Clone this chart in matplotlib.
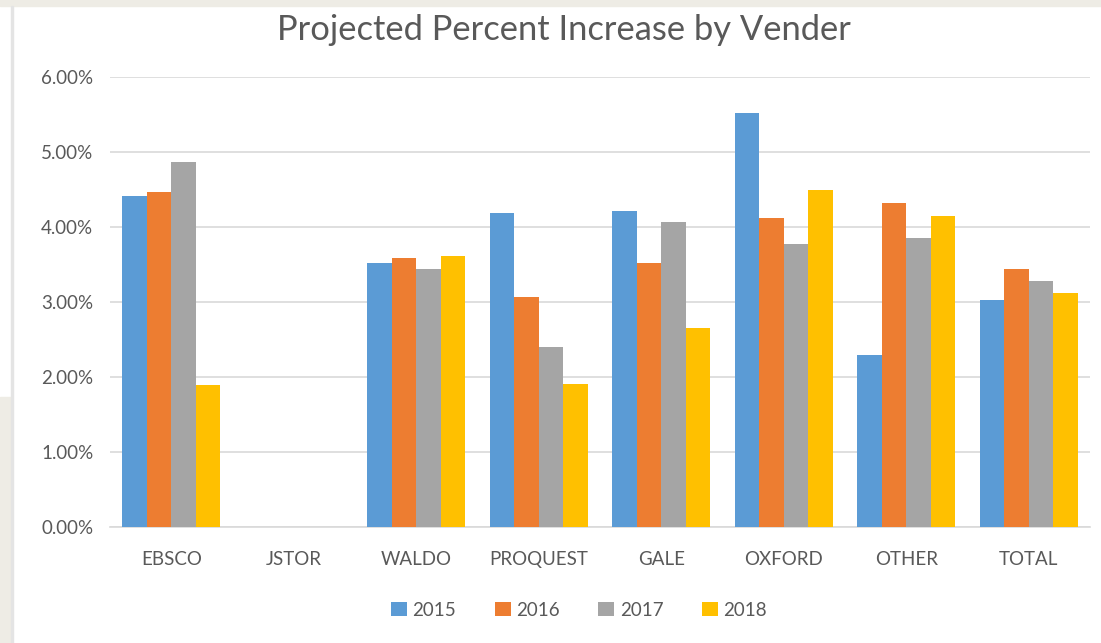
import matplotlib
matplotlib.use("Agg")
import matplotlib.pyplot as plt
import numpy as np
from matplotlib.patches import Rectangle
from matplotlib.ticker import PercentFormatter

categories = ["EBSCO", "JSTOR", "WALDO", "PROQUEST", "GALE", "OXFORD", "OTHER", "TOTAL"]
years = ["2015", "2016", "2017", "2018"]
v2015 = [4.41, 0.0, 3.52, 4.19, 4.22, 5.52, 2.29, 3.03]
v2016 = [4.47, 0.0, 3.59, 3.07, 3.52, 4.12, 4.32, 3.44]
v2017 = [4.86, 0.0, 3.44, 2.40, 4.07, 3.77, 3.86, 3.28]
v2018 = [1.89, 0.0, 3.61, 1.91, 2.65, 4.49, 4.15, 3.12]
series = [v2015, v2016, v2017, v2018]
colors = ["#5B9BD5", "#ED7D31", "#A5A5A5", "#FFC000"]

plt.rcParams['font.family'] = ['Lato', 'DejaVu Sans']

W, H = 1101, 643
fig = plt.figure(figsize=(W / 100, H / 100), dpi=100)
fig.patch.set_facecolor("white")

# background decorations
beige = "#EEECE5"
fig.add_artist(Rectangle((0, 1 - 6 / H), 1, 6 / H, transform=fig.transFigure, color=beige, zorder=0))
fig.add_artist(Rectangle((0, 0), 11 / W, (643 - 397) / H, transform=fig.transFigure, color=beige, zorder=0))
fig.add_artist(Rectangle((11 / W, 0), 1.5 / W, 1 - 6 / H, transform=fig.transFigure, color="#E4E4E4", zorder=0))

ax = fig.add_axes([110 / W, (643 - 527) / H, (1090 - 110) / W, (527 - 77) / H])
x = np.arange(len(categories))
bw = 0.2
for i, (vals, c, yr) in enumerate(zip(series, colors, years)):
    ax.bar(x + (i - 1.5) * bw, np.array(vals) / 100, width=bw, color=c, label=yr, zorder=3)

ax.set_xlim(-0.5, len(categories) - 0.5)
ax.set_ylim(0, 0.06)
ax.set_yticks(np.arange(0, 0.061, 0.01))
ax.yaxis.set_major_formatter(PercentFormatter(1.0, decimals=2))
ax.set_xticks(x)
ax.set_xticklabels(categories)
ax.grid(axis="y", color="#D9D9D9", linewidth=1.2, zorder=0)
for s in ["top", "right", "left"]:
    ax.spines[s].set_visible(False)
ax.spines["bottom"].set_color("#D9D9D9")
ax.spines["bottom"].set_linewidth(1.2)
ax.tick_params(axis="both", length=0, labelsize=13.5, labelcolor="#595959")
ax.tick_params(axis="x", pad=17)
ax.tick_params(axis="y", pad=12)

fig.text(0.512, 1 - 30 / H, "Projected Percent Increase by Vender", ha="center", va="center",
         fontsize=24.8, color="#595959")

leg = fig.legend(loc="center", bbox_to_anchor=(0.526, 1 - 610 / H), ncol=4, frameon=False,
                 fontsize=13.5, handlelength=0.85, handleheight=0.85, handletextpad=0.3,
                 columnspacing=2.05)
for t in leg.get_texts():
    t.set_color("#595959")

fig.savefig("out.png", dpi=100, facecolor=fig.get_facecolor())
